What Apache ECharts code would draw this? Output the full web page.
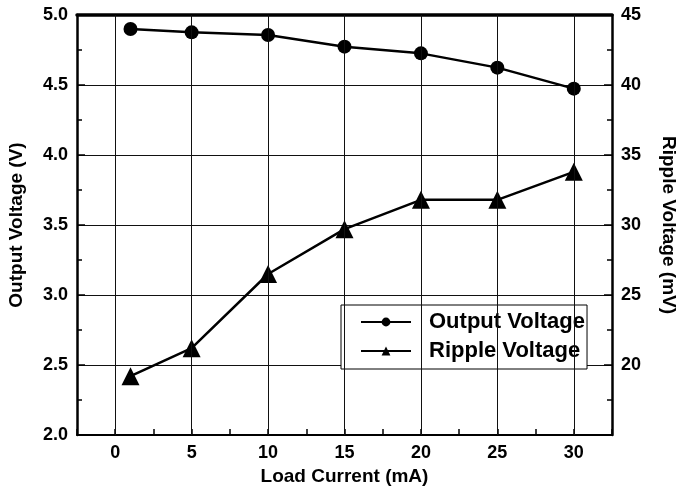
<!DOCTYPE html>
<html>
<head>
<meta charset="utf-8">
<script src="https://cdn.jsdelivr.net/npm/echarts@6/dist/echarts.min.js"></script>
<style>
html,body{margin:0;padding:0;background:#fff;}
#chart{width:678px;height:495px;}
</style>
</head>
<body>
<div id="chart"></div>
<script>
const loadCurrent = [1, 5, 10, 15, 20, 25, 30];
const outputVoltage = [4.90, 4.876, 4.857, 4.774, 4.726, 4.624, 4.474];
const rippleVoltage = [19.2, 21.2, 26.5, 29.7, 31.8, 31.8, 33.8];
const xGridValues = [0, 5, 10, 15, 20, 25, 30];

const FONT = "'Liberation Sans', Arial, sans-serif";
const chart = echarts.init(document.getElementById('chart'), null, {renderer: 'canvas'});

const option = {
  animation: false,
  backgroundColor: '#fff',
  grid: {left: 77, right: 66, top: 15, bottom: 60, containLabel: false, outerBoundsMode: 'none'},
  legend: {
    orient: 'vertical',
    left: 341, top: 305,
    padding: [5, 2, 6, 19],
    itemGap: 5,
    itemWidth: 50, itemHeight: 11,
    backgroundColor: '#fff',
    borderColor: '#000', borderWidth: 1,
    textStyle: {fontFamily: FONT, fontWeight: 'bold', fontSize: 22, color: '#000', lineHeight: 24, padding: [0, 0, 0, 13]},
    data: ['Output Voltage', 'Ripple Voltage']
  },
  xAxis: [{
    type: 'value', min: -2.5, max: 32.5, interval: 2.5,
    name: 'Load Current (mA)', nameLocation: 'middle', nameGap: 32,
    nameTextStyle: {fontFamily: FONT, fontWeight: 'bold', fontSize: 19, color: '#000'},
    axisLine: {show: true, onZero: false, lineStyle: {color: '#000', width: 2}},
    axisTick: {show: true, inside: true, length: 6, lineStyle: {color: '#000', width: 1.5}},
    axisLabel: {margin: 9, fontFamily: FONT, fontWeight: 'bold', fontSize: 18, color: '#000',
      formatter: v => (Math.abs(v % 5) < 1e-9 ? String(v) : '')},
    splitLine: {show: false}
  }, {
    type: 'value', position: 'top', min: -2.5, max: 32.5, interval: 2.5,
    axisLine: {show: true, onZero: false, lineStyle: {color: '#000', width: 3.5}},
    axisTick: {show: false}, axisLabel: {show: false}, splitLine: {show: false}
  }],
  yAxis: [{
    type: 'value', min: 2, max: 5, interval: 0.5, position: 'left',
    name: 'Output Voltage (V)', nameLocation: 'middle', nameGap: 51, nameRotate: 90,
    nameTextStyle: {fontFamily: FONT, fontWeight: 'bold', fontSize: 19, color: '#000'},
    axisLine: {show: true, onZero: false, lineStyle: {color: '#000', width: 2.5}},
    axisTick: {show: true, inside: true, length: 8, lineStyle: {color: '#000', width: 1.5}},
    minorTick: {show: true, splitNumber: 2, length: 5, lineStyle: {color: '#000', width: 1.5}},
    axisLabel: {margin: 9, fontFamily: FONT, fontWeight: 'bold', fontSize: 18, color: '#000',
      formatter: v => v.toFixed(1)},
    splitLine: {show: true, lineStyle: {color: '#111', width: 1}}
  }, {
    type: 'value', min: 15, max: 45, interval: 5, position: 'right',
    name: 'Ripple Voltage (mV)', nameLocation: 'middle', nameGap: 47, nameRotate: -90,
    nameTextStyle: {fontFamily: FONT, fontWeight: 'bold', fontSize: 19, color: '#000'},
    axisLine: {show: true, onZero: false, lineStyle: {color: '#000', width: 2.5}},
    axisTick: {show: true, inside: true, length: 8, lineStyle: {color: '#000', width: 1.5}},
    minorTick: {show: true, splitNumber: 2, length: 5, lineStyle: {color: '#000', width: 1.5}},
    axisLabel: {margin: 9, showMinLabel: false, fontFamily: FONT, fontWeight: 'bold', fontSize: 18, color: '#000'},
    splitLine: {show: false}
  }],
  series: [{
    name: 'Output Voltage', type: 'line', xAxisIndex: 0, yAxisIndex: 0,
    data: loadCurrent.map((x, i) => [x, outputVoltage[i]]),
    symbol: 'circle', symbolSize: 14,
    itemStyle: {color: '#000'},
    lineStyle: {color: '#000', width: 2.5},
    emphasis: {disabled: true},
    markLine: {
      silent: true, symbol: ['none', 'none'], label: {show: false},
      lineStyle: {color: '#111', width: 1, type: 'solid'},
      data: xGridValues.map(v => ({xAxis: v}))
    }
  }, {
    name: 'Ripple Voltage', type: 'line', xAxisIndex: 0, yAxisIndex: 1,
    data: loadCurrent.map((x, i) => [x, rippleVoltage[i]]),
    symbol: 'triangle', symbolSize: 18,
    itemStyle: {color: '#000'},
    lineStyle: {color: '#000', width: 2.5},
    emphasis: {disabled: true}
  }]
};
chart.setOption(option);
</script>
</body>
</html>
